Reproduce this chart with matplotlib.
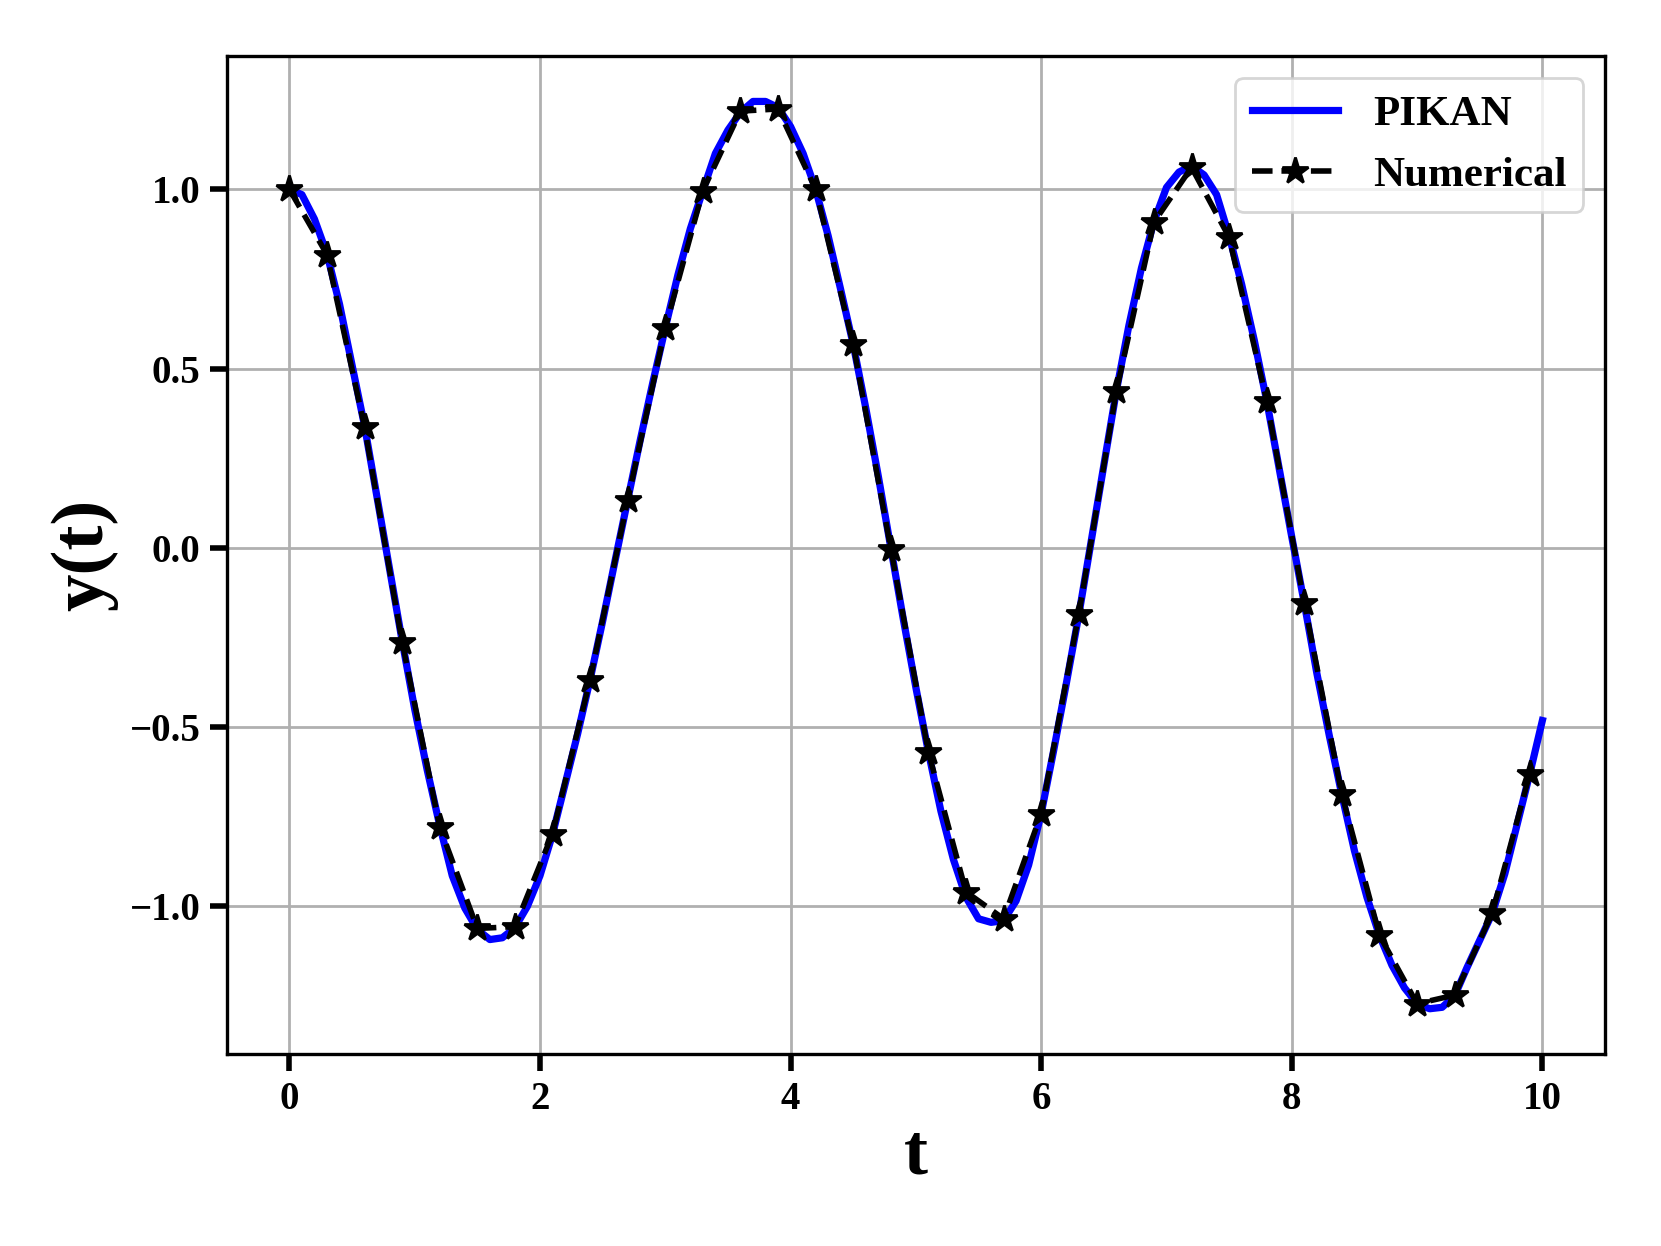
"""
PIKAN prediction against the numerical solution y(t).
"""

import numpy as np
import matplotlib
matplotlib.use("Agg")
import matplotlib.pyplot as plt

# Fonts
plt.rcParams['font.family'] = ['Liberation Serif', 'DejaVu Serif']
plt.rcParams['font.weight'] = 'bold'

# Data
T_PIKAN = [0.0, 0.1, 0.2, 0.3, 0.4, 0.5, 0.6, 0.7, 0.8, 0.9,
           1.0, 1.1, 1.2, 1.3, 1.4, 1.5, 1.6, 1.7, 1.8, 1.9,
           2.0, 2.1, 2.2, 2.3, 2.4, 2.5, 2.6, 2.7, 2.8, 2.9,
           3.0, 3.1, 3.2, 3.3, 3.4, 3.5, 3.6, 3.7, 3.8, 3.9,
           4.0, 4.1, 4.2, 4.3, 4.4, 4.5, 4.6, 4.7, 4.8, 4.9,
           5.0, 5.1, 5.2, 5.3, 5.4, 5.5, 5.6, 5.7, 5.8, 5.9,
           6.0, 6.1, 6.2, 6.3, 6.4, 6.5, 6.6, 6.7, 6.8, 6.9,
           7.0, 7.1, 7.2, 7.3, 7.4, 7.5, 7.6, 7.7, 7.8, 7.9,
           8.0, 8.1, 8.2, 8.3, 8.4, 8.5, 8.6, 8.7, 8.8, 8.9,
           9.0, 9.1, 9.2, 9.3, 9.4, 9.5, 9.6, 9.7, 9.8, 9.9, 10.0]
Y_PIKAN = [1.0, 0.985, 0.917, 0.82, 0.68, 0.51, 0.34, 0.14, -0.06, -0.26,
           -0.45, -0.62, -0.775, -0.915, -1.005, -1.065, -1.093, -1.088, -1.06, -1.0,
           -0.915, -0.80, -0.66, -0.52, -0.368, -0.205, -0.035, 0.133, 0.30, 0.46,
           0.613, 0.76, 0.89, 0.996, 1.10, 1.165, 1.215, 1.245, 1.245, 1.228,
           1.175, 1.10, 1.0, 0.87, 0.72, 0.567, 0.39, 0.20, 0.0, -0.20,
           -0.39, -0.57, -0.735, -0.87, -0.975, -1.035, -1.045, -1.04, -0.985, -0.885,
           -0.742, -0.565, -0.38, -0.188, 0.02, 0.23, 0.437, 0.62, 0.78, 0.91,
           1.005, 1.048, 1.065, 1.04, 0.985, 0.87, 0.735, 0.58, 0.41, 0.22,
           0.03, -0.155, -0.35, -0.525, -0.69, -0.845, -0.975, -1.082, -1.165, -1.228,
           -1.272, -1.286, -1.282, -1.25, -1.17, -1.095, -1.02, -0.91, -0.77, -0.63, -0.482]

T_NUM = [0.0, 0.3, 0.6, 0.9, 1.2, 1.5, 1.8, 2.1, 2.4, 2.7,
         3.0, 3.3, 3.6, 3.9, 4.2, 4.5, 4.8, 5.1, 5.4, 5.7,
         6.0, 6.3, 6.6, 6.9, 7.2, 7.5, 7.8, 8.1, 8.4, 8.7,
         9.0, 9.3, 9.6, 9.9]
Y_NUM = [1.0, 0.818, 0.337, -0.263, -0.779, -1.062, -1.057, -0.798, -0.368, 0.133,
         0.613, 0.996, 1.218, 1.224, 1.0, 0.567, -0.003, -0.57, -0.96, -1.035,
         -0.742, -0.186, 0.437, 0.908, 1.061, 0.866, 0.41, -0.154, -0.688, -1.081,
         -1.272, -1.248, -1.019, -0.630]

# Figure
fig = plt.figure(figsize=(1661 / 200, 1246 / 200), dpi=200)
ax = fig.add_axes([0.1365, 0.154, 0.8298, 0.801])

ax.plot(T_PIKAN, Y_PIKAN, color='blue', linewidth=2.6, label='PIKAN', zorder=2)
ax.plot(T_NUM, Y_NUM, color='black', linestyle='--', linewidth=2.0,
        marker='*', markersize=10, label='Numerical', zorder=3)

ax.set_xticks([0, 2, 4, 6, 8, 10])
ax.set_yticks([-1.0, -0.5, 0.0, 0.5, 1.0])
ax.tick_params(axis='both', which='major', labelsize=14, width=2, length=6)
for spine in ax.spines.values():
    spine.set_linewidth(1.2)

ax.set_xlabel('t', fontsize=26, fontweight='bold', labelpad=2)
ax.set_ylabel('y(t)', fontsize=27, fontweight='bold', labelpad=4)
ax.grid(True, color='#b0b0b0', linewidth=1.0)
ax.set_axisbelow(True)

ax.legend(loc='upper right', prop={'size': 15.5, 'weight': 'bold'})

fig.savefig('out.png', dpi=200)
